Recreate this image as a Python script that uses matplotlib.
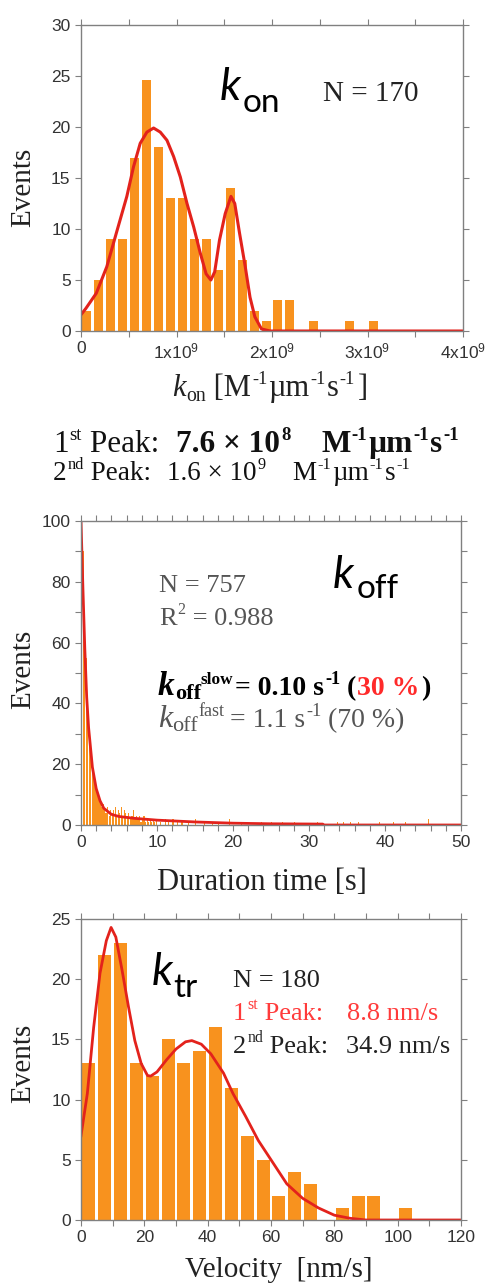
import numpy as np
import matplotlib
matplotlib.use("Agg")
import matplotlib.pyplot as plt
from matplotlib.ticker import MultipleLocator, FixedLocator

# ---------------- data ----------------
# k_on histogram (bin width 1.25e8)
kon_bin_width = 1.25e8
kon_counts = [2, 5, 9, 9, 17, 24.6, 18, 13, 13, 9, 9, 6, 14, 7, 2, 1, 3, 3, 0, 1, 0, 0, 1, 0, 1]
# fitted curve
kon_fit_x = [0.0, 0.05, 0.16, 0.27, 0.37, 0.48, 0.55, 0.62, 0.69, 0.76, 0.83, 0.90, 0.97, 1.04,
             1.11, 1.18, 1.25, 1.31, 1.36, 1.40, 1.45, 1.51, 1.57, 1.61, 1.66, 1.72, 1.77, 1.82,
             1.89, 1.98, 4.0]
kon_fit_y = [1.6, 2.2, 3.7, 6.3, 9.6, 13.2, 16.1, 18.4, 19.5, 19.9, 19.5, 18.7, 17.1, 15.1,
             12.5, 10.2, 7.6, 5.6, 5.0, 5.8, 8.9, 11.5, 13.2, 12.5, 9.6, 6.3, 3.3, 1.4,
             0.2, 0.0, 0.0]

# k_off histogram (bin width 0.2 s) for 0-10 s, then sparse tail events
koff_bin_width = 0.2
koff_counts = [100, 90, 70, 55, 42, 32, 24, 20, 16, 13,
               11, 9, 8, 6, 7, 5, 4, 6, 3, 5,
               4, 5, 6, 3, 5, 4, 6, 3, 5, 4,
               3, 4, 2, 3, 5, 2, 3, 2, 3, 1,
               2, 3, 1, 2, 1, 2, 1, 2, 1, 2]
koff_tail_t = [10.4, 11.0, 11.4, 12.0, 12.6, 13.2, 14.0, 15.0, 16.2, 17.2, 18.0, 19.4,
               21.0, 23.6, 25.0, 26.4, 28.0, 31.0, 33.6, 34.4, 35.4, 36.4, 39.2, 41.0,
               42.6, 45.6]
koff_tail_n = [1, 2, 1, 2, 1, 1, 1, 2, 1, 1, 1, 2, 1, 1, 1, 1, 1, 1, 1, 1, 1, 1, 1, 1, 1, 2]
koff_fit_x = [0.0, 0.25, 0.5, 0.75, 1.0, 1.5, 2.0, 2.5, 3.0, 4.0, 5.0, 7.0, 10.0, 15.0,
              20.0, 25.0, 31.8, 32.0, 50.0]
koff_fit_y = [100, 78, 58, 42, 32, 19, 12, 8, 5.5, 3.5, 2.8, 2.2, 1.6, 1.0,
              0.6, 0.4, 0.3, 0.0, 0.0]

# k_tr histogram (bin width 5 nm/s)
ktr_bin_width = 5
ktr_counts = [13, 22, 23, 13, 12, 15, 13, 14, 16, 11, 7, 5, 2, 4, 3, 0, 1, 2, 2, 0, 1]
ktr_fit_x = [0, 2, 4, 6, 8, 9.5, 11, 13, 15, 17, 19, 21, 22, 24, 27, 30, 33, 35, 38, 41,
             45, 48, 52, 56, 60, 65, 70, 75, 80, 85, 90, 120]
ktr_fit_y = [7.0, 10.5, 16.0, 20.5, 23.2, 24.3, 23.5, 20.7, 17.7, 14.9, 13.0, 12.0, 11.95,
             12.3, 13.3, 14.2, 14.8, 14.9, 14.6, 13.8, 12.2, 10.5, 8.6, 6.6, 5.0, 3.0, 1.8,
             1.0, 0.4, 0.14, 0.0, 0.0]

kon_xticks = [0, 1e9, 2e9, 3e9, 4e9]
kon_xticklabels = ["0", r"$\mathsf{1x10^{9}}$", r"$\mathsf{2x10^{9}}$",
                   r"$\mathsf{3x10^{9}}$", r"$\mathsf{4x10^{9}}$"]

# ---------------- style ----------------
plt.rcParams["font.family"] = ["Liberation Sans", "DejaVu Sans"]
plt.rcParams["mathtext.fontset"] = "custom"
plt.rcParams["mathtext.sf"] = "Liberation Sans"
plt.rcParams["mathtext.rm"] = "Liberation Sans"

ORANGE = "#F8921E"
RED = "#E3221C"
GRAY = "#808080"
TXT = "#333333"
SERIF = ["Liberation Serif", "DejaVu Serif"]

W, H = 488, 1287
fig = plt.figure(figsize=(W / 100, H / 100), dpi=100)


def rect(l, t, r, b):
    return [l / W, 1 - b / H, (r - l) / W, (b - t) / H]


def style(ax):
    for s in ax.spines.values():
        s.set_color(GRAY)
        s.set_linewidth(1.0)
    ax.tick_params(which="both", direction="out", length=4.5, width=0.8, color=GRAY,
                   top=True, right=True, labeltop=False, labelright=False,
                   labelsize=12.5, labelcolor=TXT, pad=3)


# --- top: k_on ---
ax1 = fig.add_axes(rect(81, 25, 463, 331))
kx = (np.arange(len(kon_counts)) + 0.5) * kon_bin_width
ax1.bar(kx, kon_counts, width=kon_bin_width * 0.75, color=ORANGE, linewidth=0)
ax1.plot(np.array(kon_fit_x) * 1e9, kon_fit_y, color=RED, lw=2.2, solid_capstyle="round")
ax1.set_xlim(0, 4e9)
ax1.set_ylim(0, 30)
ax1.xaxis.set_major_locator(FixedLocator(kon_xticks))
ax1.set_xticklabels(kon_xticklabels)
ax1.xaxis.set_minor_locator(MultipleLocator(0.5e9))
ax1.yaxis.set_major_locator(MultipleLocator(5))
style(ax1)

# --- middle: k_off ---
ax2 = fig.add_axes(rect(81, 521, 461, 825))
bx = (np.arange(len(koff_counts)) + 0.5) * koff_bin_width
ax2.bar(bx, koff_counts, width=koff_bin_width * 0.8, color=ORANGE, linewidth=0)
ax2.bar(np.array(koff_tail_t) + koff_bin_width / 2, koff_tail_n, width=koff_bin_width * 0.8,
        color=ORANGE, linewidth=0)
ax2.plot(koff_fit_x, koff_fit_y, color=RED, lw=2.0)
ax2.set_xlim(0, 50)
ax2.set_ylim(0, 100)
ax2.xaxis.set_major_locator(MultipleLocator(10))
ax2.xaxis.set_minor_locator(MultipleLocator(2))
ax2.yaxis.set_major_locator(MultipleLocator(20))
ax2.yaxis.set_minor_locator(MultipleLocator(10))
style(ax2)

# --- bottom: k_tr ---
ax3 = fig.add_axes(rect(81, 919, 461, 1220))
tx = (np.arange(len(ktr_counts)) + 0.5) * ktr_bin_width
ax3.bar(tx, ktr_counts, width=ktr_bin_width * 0.82, color=ORANGE, linewidth=0)
ax3.plot(ktr_fit_x, ktr_fit_y, color=RED, lw=2.0)
ax3.set_xlim(0, 120)
ax3.set_ylim(0, 25)
ax3.xaxis.set_major_locator(MultipleLocator(20))
ax3.xaxis.set_minor_locator(MultipleLocator(10))
ax3.yaxis.set_major_locator(MultipleLocator(5))
style(ax3)

# ---------------- text helpers ----------------
renderer = fig.canvas.get_renderer()


def put(x, y, s, size, **kw):
    kw.setdefault("family", SERIF)
    return fig.text(x / W, 1 - y / H, s, fontsize=size, va="baseline", ha="left", **kw)


def rich(x, y, pieces, size, color="black", weight="normal", sup_scale=0.6, sub_scale=0.65):
    cx = x
    for p in pieces:
        txt = p[0]
        o = dict(p[1]) if len(p) > 1 else {}
        kind = o.pop("kind", None)
        cx += o.pop("gap", 0)
        if "at" in o:
            cx = o.pop("at")
        col = o.pop("color", color)
        wt = o.pop("weight", weight)
        scale = o.pop("scale", None)
        if kind == "sup":
            s = size * (scale or sup_scale)
            yy = y - size * 0.40 * 100 / 72
        elif kind == "sub":
            s = size * (scale or sub_scale)
            yy = y + size * 0.16 * 100 / 72
        else:
            s = size * (scale or 1.0)
            yy = y
        t = put(cx, yy, txt, s, color=col, weight=wt, **o)
        cx += t.get_window_extent(renderer).width
    return cx


# axis labels
for (cx, cy) in [(23, 187), (23, 669), (23, 1063)]:
    fig.text(cx / W, 1 - cy / H, "Events", rotation=90, ha="center", va="center",
             fontsize=21, family=SERIF, color="#222222")

# top x label: k_on [M-1 µm-1 s-1]
rich(172, 396, [("k", {"style": "italic"}), ("on", {"kind": "sub", "gap": 1}),
                (" [M", {}), ("-1", {"kind": "sup", "gap": 1}), ("µm", {"gap": 1}),
                ("-1", {"kind": "sup", "gap": 1}), ("s", {"gap": 1}),
                ("-1", {"kind": "sup", "gap": 1}), ("]", {"gap": 3})],
     22, color="#222222", sup_scale=0.6)

fig.text(262 / W, 1 - 890 / H, "Duration time [s]", ha="center", va="baseline",
         fontsize=22, family=SERIF, color="#222222")
fig.text(279 / W, 1 - 1277 / H, "Velocity  [nm/s]", ha="center", va="baseline",
         fontsize=21, family=SERIF, color="#222222")

# peak lines under top plot
rich(53, 452, [("1", {}), ("st", {"kind": "sup", "gap": 1}), (" Peak:", {}),
               ("7.6 × 10", {"weight": "bold", "at": 176}),
               ("8", {"kind": "sup", "weight": "bold", "gap": 1}),
               ("M", {"weight": "bold", "at": 321}),
               ("-1", {"kind": "sup", "weight": "bold", "gap": 1}),
               ("µm", {"weight": "bold", "gap": 1}),
               ("-1", {"kind": "sup", "weight": "bold", "gap": 1}),
               ("s", {"weight": "bold", "gap": 1}),
               ("-1", {"kind": "sup", "weight": "bold", "gap": 1})],
     22.5, color="#111111")
rich(53, 480, [("2", {}), ("nd", {"kind": "sup", "gap": 1}), (" Peak:", {}),
               ("1.6 × 10", {"at": 167}), ("9", {"kind": "sup", "gap": 1}),
               ("M", {"at": 292}), ("-1", {"kind": "sup", "gap": 1}),
               ("µm", {"gap": 1}), ("-1", {"kind": "sup", "gap": 1}),
               ("s", {"gap": 1}), ("-1", {"kind": "sup", "gap": 1})],
     19.5, color="#111111")

# top annotations
put(220, 100, "k", 32, family=["Lato", "DejaVu Sans"], style="italic", color="black")
put(243, 112, "on", 24, family=["Lato", "DejaVu Sans"], color="black")
put(323, 101, "N = 170", 21, color="#222222")

# middle annotations
put(333, 588, "k", 32, family=["Lato", "DejaVu Sans"], style="italic", color="black")
put(357, 598, "off", 24, family=["Lato", "DejaVu Sans"], color="black")
MG = "#555555"
put(159, 592, "N = 757", 19, color=MG)
rich(159, 625, [("R", {}), ("2", {"kind": "sup", "gap": 1}), (" = 0.988", {})], 19, color=MG)
rich(158, 695, [("k", {"style": "italic", "scale": 1.2}), ("off", {"kind": "sub", "scale": 0.8}),
                ("slow", {"kind": "sup", "scale": 0.62}),
                ("= 0.10 s", {"at": 235}), ("-1", {"kind": "sup", "gap": 1}),
                ("(", {"gap": 7}), ("30 %", {"color": "#FF2A2A", "gap": 1}), (")", {"gap": 1})],
     20, color="black", weight="bold", sup_scale=0.66)
rich(158, 727, [("k", {"style": "italic", "scale": 1.15}), ("off", {"kind": "sub", "scale": 0.8}),
                ("fast", {"kind": "sup", "scale": 0.65}),
                ("= 1.1 s", {"at": 230}), ("-1", {"kind": "sup", "gap": 1}),
                ("(70 %)", {"gap": 7})],
     20, color=MG, sup_scale=0.66)

# bottom annotations
put(152, 985, "k", 32, family=["Lato", "DejaVu Sans"], style="italic", color="black")
put(173, 997, "tr", 24, family=["Lato", "DejaVu Sans"], color="black")
put(233, 987, "N = 180", 19, color="#222222")
rich(233, 1020, [("1", {}), ("st", {"kind": "sup", "gap": 1}), (" Peak:", {}),
                 ("8.8 nm/s", {"gap": 24})], 19, color="#FF3B3B")
rich(233, 1053, [("2", {}), ("nd", {"kind": "sup", "gap": 1}), (" Peak:", {}),
                 ("34.9 nm/s", {"gap": 18})], 19, color="#222222")

fig.savefig("out.png", dpi=100)
